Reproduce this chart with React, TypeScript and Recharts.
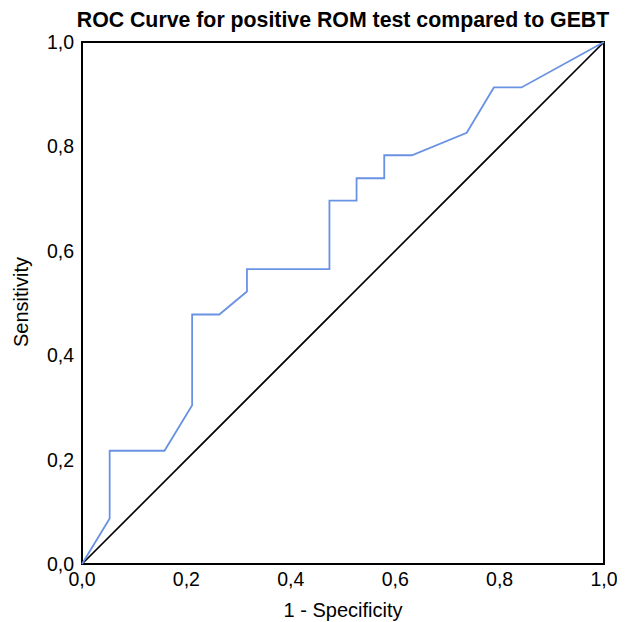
import React from "react";
import {
  LineChart,
  Line,
  XAxis,
  YAxis,
  ReferenceArea,
} from "recharts";

// 1 - specificity / sensitivity pairs
const fpr = [0, 0.053, 0.053, 0.158, 0.211, 0.211, 0.263, 0.316, 0.316, 0.474, 0.474, 0.526, 0.526, 0.579, 0.579, 0.632, 0.737, 0.789, 0.842, 1];
const tpr = [0, 0.087, 0.217, 0.217, 0.304, 0.478, 0.478, 0.522, 0.565, 0.565, 0.696, 0.696, 0.739, 0.739, 0.783, 0.783, 0.826, 0.913, 0.913, 1];

const refX = [0, 1];
const refY = [0, 1];

const ticks = [0, 0.2, 0.4, 0.6, 0.8, 1];

const rocData = fpr.map((x, i) => ({ x, y: tpr[i] }));
const diagData = refX.map((x, i) => ({ x, y: refY[i] }));

const fmt = (v: number) => v.toFixed(1).replace(".", ",");
const font = "'Liberation Sans', Arial, sans-serif";

export default function App() {
  return (
    <div style={{ position: "relative", width: 617, height: 614, fontFamily: font }}>
      <div
        style={{
          position: "absolute",
          left: 54,
          width: 562,
          top: 2,
          textAlign: "center",
          fontSize: 21.3,
          lineHeight: "21px",
          fontWeight: "bold",
          color: "#000",
        }}
      >
        ROC Curve for positive ROM test compared to GEBT
      </div>
      <LineChart
        width={617}
        height={614}
        margin={{ top: 34, right: 21, bottom: 0, left: 0 }}
      >
        <XAxis
          type="number"
          dataKey="x"
          domain={[0, 1]}
          ticks={ticks}
          tickFormatter={fmt}
          tickLine={false}
          axisLine={false}
          height={58}
          tick={{ fill: "#000", fontSize: 19.5, fontFamily: font }}
        />
        <YAxis
          type="number"
          dataKey="y"
          domain={[0, 1]}
          ticks={ticks}
          tickFormatter={fmt}
          tickLine={false}
          axisLine={false}
          width={74}
          tick={{ fill: "#000", fontSize: 19.5, fontFamily: font }}
        />
        <ReferenceArea
          x1={0}
          x2={1}
          y1={0}
          y2={1}
          fill="none"
          fillOpacity={0}
          stroke="#000"
          strokeWidth={2}
        />
        <Line
          data={diagData}
          dataKey="y"
          type="linear"
          stroke="#000"
          strokeWidth={1.7}
          dot={false}
          isAnimationActive={false}
        />
        <Line
          data={rocData}
          dataKey="y"
          type="linear"
          stroke="#6a92e3"
          strokeWidth={1.8}
          dot={false}
          isAnimationActive={false}
        />
      </LineChart>
      <div
        style={{
          position: "absolute",
          left: 74,
          width: 522,
          top: 592,
          textAlign: "center",
          fontSize: 20,
          lineHeight: "20px",
          color: "#000",
        }}
      >
        1 - Specificity
      </div>
      <div
        style={{
          position: "absolute",
          left: 13 - 100,
          top: 294 - 10,
          width: 200,
          height: 20,
          textAlign: "center",
          fontSize: 20,
          lineHeight: "20px",
          color: "#000",
          transform: "rotate(-90deg)",
        }}
      >
        Sensitivity
      </div>
    </div>
  );
}
